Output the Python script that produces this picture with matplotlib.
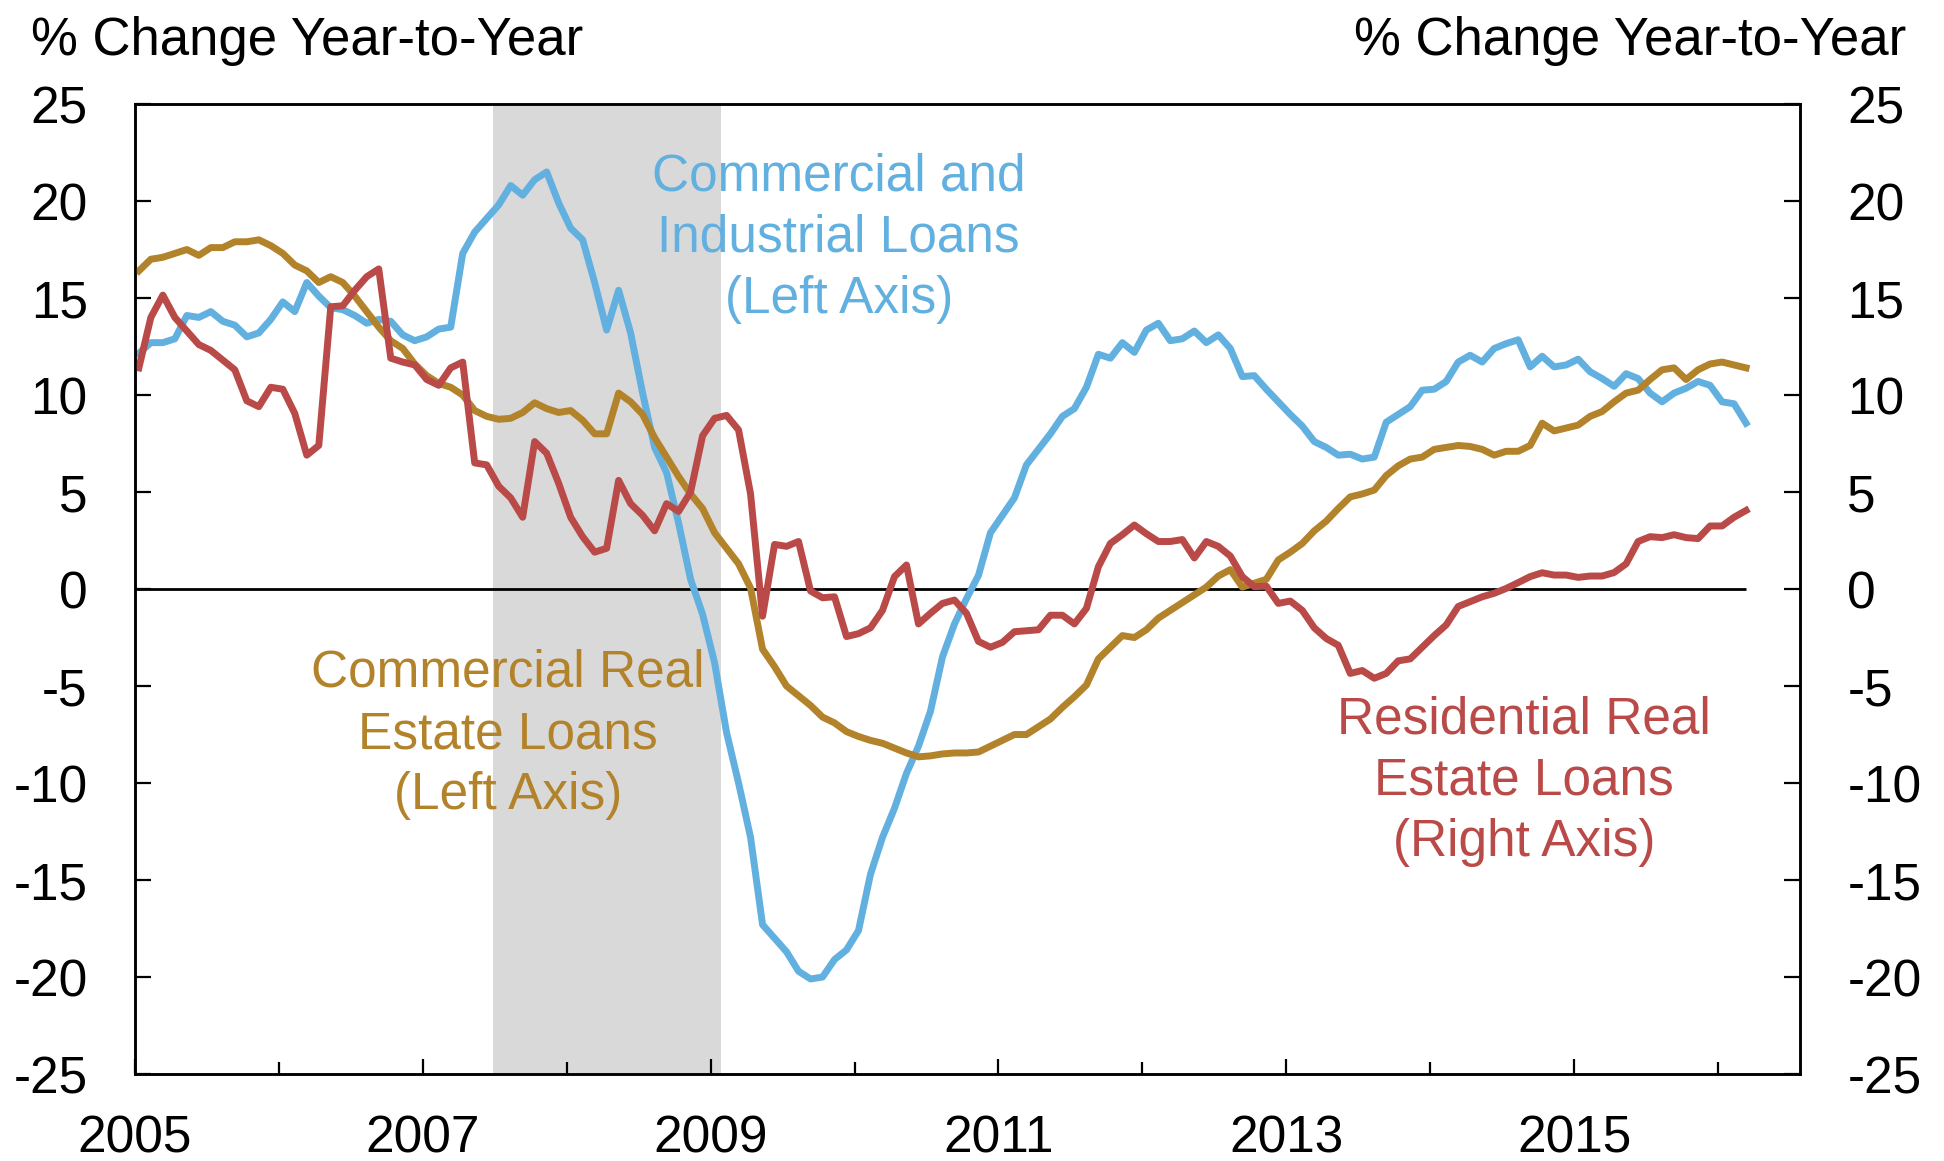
import numpy as np
import matplotlib.pyplot as plt
from matplotlib.ticker import MultipleLocator

plt.rcParams['font.family'] = ['Liberation Sans', 'DejaVu Sans']
plt.rcParams['axes.unicode_minus'] = False

# monthly, Jan 2005 - Mar 2016, % change year-to-year
ci_loans = [12.15, 12.7, 12.7, 12.9, 14.1, 14.0, 14.3, 13.8, 13.6, 13.0, 13.2, 13.9,
            14.8, 14.3, 15.8, 15.1, 14.5, 14.4, 14.1, 13.7, 13.9, 13.8, 13.1, 12.8,
            13.0, 13.4, 13.5, 17.3, 18.4, 19.1, 19.8, 20.8, 20.3, 21.1, 21.5, 19.9,
            18.6, 18.0, 15.8, 13.35, 15.4, 13.2, 10.1, 7.3, 6.0, 3.4, 0.5, -1.3,
            -3.8, -7.4, -10.0, -12.8, -17.3, -18.0, -18.7, -19.7, -20.1, -20.0, -19.1, -18.6,
            -17.6, -14.7, -12.8, -11.3, -9.5, -8.1, -6.3, -3.5, -1.8, -0.5, 0.7, 2.9,
            3.8, 4.7, 6.4, 7.2, 8.0, 8.9, 9.3, 10.4, 12.1, 11.9, 12.7, 12.2,
            13.35, 13.7, 12.8, 12.9, 13.3, 12.7, 13.1, 12.4, 10.95, 11.0, 10.3, 9.65,
            9.0, 8.4, 7.6, 7.3, 6.9, 6.95, 6.7, 6.8, 8.6, 9.0, 9.4, 10.25,
            10.3, 10.7, 11.7, 12.05, 11.7, 12.4, 12.65, 12.85, 11.45, 12.0, 11.45, 11.55,
            11.85, 11.2, 10.85, 10.45, 11.1, 10.85, 10.1, 9.65, 10.1, 10.35, 10.7, 10.5,
            9.65, 9.55, 8.55]

cre_loans = [16.4, 17.0, 17.1, 17.3, 17.5, 17.2, 17.6, 17.6, 17.9, 17.9, 18.0, 17.7,
             17.3, 16.7, 16.4, 15.8, 16.1, 15.8, 15.1, 14.3, 13.5, 12.8, 12.4, 11.6,
             11.0, 10.6, 10.4, 10.0, 9.2, 8.9, 8.75, 8.8, 9.1, 9.6, 9.3, 9.1,
             9.2, 8.7, 8.0, 8.0, 10.1, 9.65, 9.0, 7.8, 6.8, 5.8, 4.9, 4.15,
             2.9, 2.1, 1.3, 0.05, -3.1, -4.0, -5.0, -5.5, -6.0, -6.6, -6.9, -7.35,
             -7.6, -7.8, -7.95, -8.2, -8.45, -8.65, -8.6, -8.5, -8.45, -8.45, -8.4, -8.1,
             -7.8, -7.5, -7.5, -7.1, -6.7, -6.1, -5.55, -4.95, -3.6, -3.0, -2.4, -2.5,
             -2.1, -1.5, -1.1, -0.7, -0.3, 0.1, 0.67, 1.0, 0.1, 0.3, 0.5, 1.5,
             1.9, 2.35, 3.0, 3.5, 4.15, 4.75, 4.9, 5.1, 5.85, 6.35, 6.7, 6.8,
             7.2, 7.3, 7.4, 7.35, 7.2, 6.9, 7.1, 7.1, 7.4, 8.55, 8.15, 8.3,
             8.45, 8.9, 9.15, 9.65, 10.1, 10.25, 10.8, 11.3, 11.4, 10.8, 11.3, 11.6,
             11.7, 11.55, 11.4]

rre_loans = [11.4, 14.0, 15.15, 14.0, 13.3, 12.6, 12.3, 11.8, 11.3, 9.7, 9.4, 10.4,
             10.3, 9.05, 6.9, 7.4, 14.55, 14.6, 15.4, 16.1, 16.5, 11.9, 11.7, 11.55,
             10.8, 10.5, 11.4, 11.7, 6.5, 6.4, 5.3, 4.7, 3.7, 7.6, 7.0, 5.45,
             3.7, 2.7, 1.9, 2.1, 5.6, 4.4, 3.8, 3.0, 4.4, 4.0, 5.0, 7.9,
             8.8, 8.95, 8.2, 4.9, -1.4, 2.3, 2.2, 2.45, -0.1, -0.45, -0.4, -2.45,
             -2.3, -2.0, -1.1, 0.64, 1.24, -1.8, -1.25, -0.74, -0.57, -1.25, -2.7, -3.0,
             -2.75, -2.2, -2.15, -2.1, -1.35, -1.35, -1.8, -1.0, 1.15, 2.35, 2.8, 3.3,
             2.85, 2.45, 2.45, 2.55, 1.6, 2.45, 2.2, 1.7, 0.64, 0.12, 0.15, -0.74,
             -0.62, -1.1, -2.0, -2.55, -2.9, -4.35, -4.2, -4.6, -4.35, -3.7, -3.6, -3.0,
             -2.4, -1.85, -0.9, -0.65, -0.4, -0.22, 0.03, 0.33, 0.64, 0.84, 0.72, 0.72,
             0.6, 0.67, 0.67, 0.85, 1.3, 2.45, 2.7, 2.65, 2.8, 2.65, 2.6, 3.25,
             3.25, 3.7, 4.05]

recession = (2007.49, 2009.07)
year_labels = [2005, 2007, 2009, 2011, 2013, 2015]

months = np.arange(len(ci_loans))
x = 2005 + (months + 0.33) / 12

blue, gold, red = '#62b0e0', '#b3832b', '#b94a48'

fig = plt.figure(figsize=(19.44, 11.61), dpi=100)
ax = fig.add_axes([0.0694, 0.0749, 0.8566, 0.8355])

ax.axvspan(*recession, color='#d9d9d9', lw=0, zorder=0)
ax.hlines(0, 2005, x[-1], color='black', lw=2, zorder=1)
ax.plot(x, ci_loans, color=blue, lw=5, zorder=2)
ax.plot(x, cre_loans, color=gold, lw=5, zorder=3)

ax.set_xlim(2005, 2016.57)
ax.set_ylim(-25, 25)
ax.yaxis.set_major_locator(MultipleLocator(5))
ax.set_xticks(year_labels)
ax.set_xticklabels([str(y) for y in year_labels])
ax.set_xticks([y + 1 for y in year_labels], minor=True)

ax2 = ax.twinx()
ax2.plot(x, rre_loans, color=red, lw=5)
ax2.set_ylim(-25, 25)
ax2.yaxis.set_major_locator(MultipleLocator(5))

for a in (ax, ax2):
    for s in a.spines.values():
        s.set_linewidth(1.8)
ax.tick_params(axis='y', direction='in', length=11.5, width=1.6, labelsize=37, pad=34)
ax2.tick_params(axis='y', direction='in', length=11.5, width=1.6, labelsize=37, pad=34)
ax.tick_params(axis='x', which='major', direction='in', length=11, width=1.6,
               labelsize=37, pad=29)
ax.tick_params(axis='x', which='minor', direction='in', length=8.5, width=1.6)

ax.text(2009.89, 18.1, 'Commercial and\nIndustrial Loans\n(Left Axis)', color=blue,
        fontsize=37, ha='center', va='center', linespacing=1.32)
ax.text(2007.59, -7.5, 'Commercial Real\nEstate Loans\n(Left Axis)', color=gold,
        fontsize=37, ha='center', va='center', linespacing=1.32)
ax2.text(2014.65, -9.9, 'Residential Real\nEstate Loans\n(Right Axis)', color=red,
         fontsize=37, ha='center', va='center', linespacing=1.32)

fig.text(0.016, 0.965, '% Change Year-to-Year', fontsize=38, ha='left', va='center')
fig.text(0.9805, 0.965, '% Change Year-to-Year', fontsize=38, ha='right', va='center')

fig.savefig('out.png', dpi=100)
